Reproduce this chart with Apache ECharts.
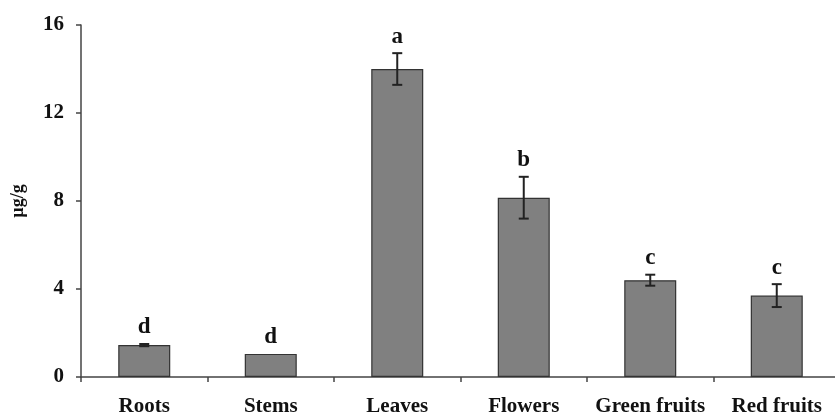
<!DOCTYPE html>
<html><head><meta charset="utf-8">
<script src="https://cdn.jsdelivr.net/npm/echarts@6/dist/echarts.min.js"></script>
<style>html,body{margin:0;padding:0;background:#fff}#c{width:835px;height:416px}</style>
</head><body><div id="c"></div>
<script>
const categories = ['Roots', 'Stems', 'Leaves', 'Flowers', 'Green fruits', 'Red fruits'];
const values = [1.45, 1.05, 14.0, 8.15, 4.4, 3.7];
const errors = [0.05, 0.0, 0.72, 0.95, 0.25, 0.52];
const letters = ['d', 'd', 'a', 'b', 'c', 'c'];
const yTicks = [0, 4, 8, 12, 16];

const font = '"Liberation Serif", "Times New Roman", serif';
const chart = echarts.init(document.getElementById('c'));
chart.setOption({
  animation: false,
  grid: { left: 81, top: 25, width: 759, height: 352, containLabel: false, outerBoundsMode: 'none' },
  xAxis: {
    type: 'category', data: categories,
    axisLine: { lineStyle: { color: '#444', width: 1.5 } },
    axisTick: { show: true, alignWithLabel: false, length: 5, lineStyle: { color: '#444', width: 1.5 } },
    axisLabel: { interval: 0, hideOverlap: false, color: '#111', fontFamily: font, fontWeight: 'bold', fontSize: 21, margin: 19 }
  },
  yAxis: {
    type: 'value', min: yTicks[0], max: yTicks[yTicks.length - 1], interval: 4,
    name: 'µg/g', nameLocation: 'middle', nameGap: 54, nameRotate: 90,
    nameTextStyle: { color: '#111', fontFamily: font, fontWeight: 'bold', fontSize: 18 },
    axisLine: { show: true, lineStyle: { color: '#444', width: 1.5 } },
    axisTick: { show: true, length: 5, lineStyle: { color: '#444', width: 1.5 } },
    splitLine: { show: false },
    axisLabel: { color: '#111', fontFamily: font, fontWeight: 'bold', fontSize: 21, margin: 17 }
  },
  series: [
    {
      type: 'bar', data: values, barWidth: 52,
      itemStyle: { color: '#808080', borderColor: '#333', borderWidth: 1.2 }
    },
    {
      type: 'custom',
      data: values.map((v, i) => [i, v, errors[i]]),
      renderItem: function (params, api) {
        const i = api.value(0), v = api.value(1), e = api.value(2);
        const top = api.coord([i, v + e]);
        const bot = api.coord([i, v - e]);
        const x = top[0];
        const cap = 5;
        const children = [];
        if (e > 0) {
          const st = { stroke: '#222', lineWidth: 2 };
          children.push({ type: 'line', shape: { x1: x, y1: top[1], x2: x, y2: bot[1] }, style: st });
          children.push({ type: 'line', shape: { x1: x - cap, y1: top[1], x2: x + cap, y2: top[1] }, style: st });
          children.push({ type: 'line', shape: { x1: x - cap, y1: bot[1], x2: x + cap, y2: bot[1] }, style: st });
        }
        children.push({
          type: 'text',
          style: {
            text: letters[params.dataIndex], x: x, y: top[1] - 5,
            textAlign: 'center', textVerticalAlign: 'bottom',
            font: 'bold 23px ' + font, fill: '#111'
          }
        });
        return { type: 'group', children: children };
      },
      z: 5
    }
  ]
});
</script></body></html>
